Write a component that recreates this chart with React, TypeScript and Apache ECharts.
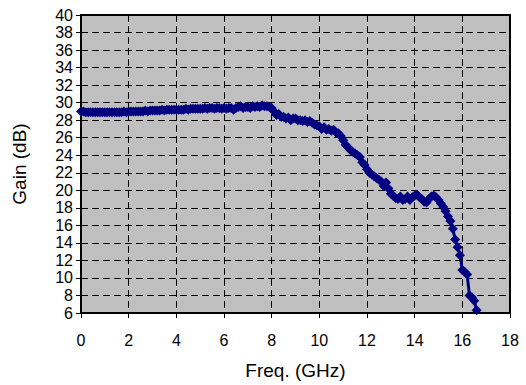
import React, { useEffect, useRef } from "react";
import * as echarts from "echarts";

const freqGHz: number[] = [
  0.0, 0.1, 0.2, 0.3, 0.4, 0.5, 0.6, 0.7, 0.8, 0.9,
  1.0, 1.1, 1.2, 1.3, 1.4, 1.5, 1.6, 1.7, 1.8, 1.9,
  2.0, 2.1, 2.2, 2.3, 2.4, 2.5, 2.6, 2.7, 2.8, 2.9,
  3.0, 3.1, 3.2, 3.3, 3.4, 3.5, 3.6, 3.7, 3.8, 3.9,
  4.0, 4.1, 4.2, 4.3, 4.4, 4.5, 4.6, 4.7, 4.8, 4.9,
  5.0, 5.1, 5.2, 5.3, 5.4, 5.5, 5.6, 5.7, 5.8, 5.9,
  6.0, 6.1, 6.2, 6.3, 6.4, 6.5, 6.6, 6.7, 6.8, 6.9,
  7.0, 7.1, 7.2, 7.3, 7.4, 7.5, 7.6, 7.7, 7.8, 7.9,
  8.0, 8.1, 8.2, 8.3, 8.4, 8.5, 8.6, 8.7, 8.8, 8.9,
  9.0, 9.1, 9.2, 9.3, 9.4, 9.5, 9.6, 9.7, 9.8, 9.9,
  10.0, 10.1, 10.2, 10.3, 10.4, 10.5, 10.6, 10.7, 10.8, 10.9,
  11.0, 11.1, 11.2, 11.3, 11.4, 11.5, 11.6, 11.7, 11.8, 11.9,
  12.0, 12.1, 12.2, 12.3, 12.4, 12.5, 12.6, 12.7, 12.8, 12.9,
  13.0, 13.1, 13.2, 13.3, 13.4, 13.5, 13.6, 13.7, 13.8, 13.9,
  14.0, 14.1, 14.2, 14.3, 14.4, 14.5, 14.6, 14.7, 14.8, 14.9,
  15.0, 15.1, 15.2, 15.3, 15.4, 15.5, 15.6, 15.7, 15.8, 15.9,
  16.0, 16.1, 16.2, 16.3, 16.4, 16.5, 16.6,
];

const gainDB: number[] = [
  29.0, 29.0, 28.9, 28.9, 28.9, 28.9, 28.9, 28.9, 28.9, 28.9,
  28.9, 28.9, 28.9, 28.9, 28.9, 28.9, 28.9, 28.9, 29.0, 28.9,
  29.0, 29.0, 29.0, 29.0, 29.0, 29.0, 29.0, 29.1, 29.0, 29.1,
  29.1, 29.1, 29.1, 29.1, 29.2, 29.1, 29.2, 29.2, 29.2, 29.2,
  29.2, 29.2, 29.2, 29.2, 29.3, 29.2, 29.3, 29.3, 29.3, 29.3,
  29.3, 29.3, 29.4, 29.3, 29.4, 29.4, 29.3, 29.4, 29.4, 29.3,
  29.4, 29.3, 29.4, 29.4, 29.2, 29.4, 29.5, 29.6, 29.4, 29.5,
  29.5, 29.4, 29.6, 29.5, 29.6, 29.5, 29.7, 29.6, 29.6, 29.5,
  29.4, 29.0, 28.6, 28.7, 28.4, 28.4, 28.2, 28.3, 28.0, 28.2,
  28.2, 28.0, 28.0, 27.9, 28.0, 27.8, 27.9, 27.7, 27.5, 27.4,
  27.3, 27.0, 27.2, 26.9, 27.0, 26.8, 26.9, 26.6, 26.5, 26.2,
  25.7, 25.2, 24.9, 24.6, 24.4, 24.2, 24.0, 23.8, 23.2, 22.9,
  22.4, 22.0, 21.8, 21.6, 21.4, 21.2, 21.0, 20.5, 20.9, 20.2,
  19.6, 19.4, 19.1, 19.0, 19.3, 18.9, 19.0, 19.3, 18.9, 19.2,
  19.4, 19.5, 19.2, 19.0, 18.7, 18.6, 19.0, 19.3, 19.4, 19.2,
  18.9, 18.5, 18.1, 17.6, 17.0, 16.5, 15.6, 14.4, 13.5, 12.6,
  10.9, 10.7, 10.4, 8.0, 7.8, 7.4, 6.3,
];

const xMin = 0;
const xMax = 18;
const xStep = 2;
const yMin = 6;
const yMax = 40;
const yStep = 2;
const xTitle = "Freq. (GHz)";
const yTitle = "Gain (dB)";

const FONT = "'Liberation Sans', Arial, sans-serif";

export default function App() {
  const ref = useRef<HTMLDivElement>(null);

  useEffect(() => {
    if (!ref.current) return;
    const chart = echarts.init(ref.current, undefined, { renderer: "svg" });
    const points = freqGHz.map((f, i) => [f, gainDB[i]]);
    const dashed = { color: "#000", width: 1, type: [7, 4] as number[] };
    chart.setOption({
      animation: false,
      backgroundColor: "#ffffff",
      textStyle: { fontFamily: FONT },
      grid: {
        left: 81,
        top: 15,
        right: 16,
        bottom: 71,
        show: true,
        backgroundColor: "#C0C0C0",
        borderColor: "#000",
        borderWidth: 2,
      },
      xAxis: {
        type: "value",
        min: xMin,
        max: xMax,
        interval: xStep,
        name: xTitle,
        nameLocation: "middle",
        nameGap: 48,
        nameTextStyle: { fontSize: 19, color: "#000", fontFamily: FONT },
        axisLine: { show: true, onZero: false, lineStyle: { color: "#000", width: 2 } },
        axisTick: { show: true, length: 5, lineStyle: { color: "#000", width: 1 } },
        axisLabel: { fontSize: 16, color: "#000", margin: 19, fontFamily: FONT },
        splitLine: { show: true, lineStyle: dashed },
      },
      yAxis: {
        type: "value",
        min: yMin,
        max: yMax,
        interval: yStep,
        name: yTitle,
        nameLocation: "middle",
        nameGap: 52,
        nameTextStyle: { fontSize: 19, color: "#000", fontFamily: FONT },
        axisLine: { show: true, onZero: false, lineStyle: { color: "#000", width: 2 } },
        axisTick: { show: true, length: 5, lineStyle: { color: "#000", width: 1 } },
        axisLabel: { fontSize: 16, color: "#000", margin: 8, fontFamily: FONT },
        splitLine: { show: true, lineStyle: dashed },
      },
      series: [
        {
          type: "line",
          data: points,
          symbol: "diamond",
          symbolSize: 10,
          showSymbol: true,
          color: "#000080",
          itemStyle: { color: "#000080" },
          lineStyle: { color: "#000080", width: 3 },
          clip: true,
        },
      ],
    });
    return () => chart.dispose();
  }, []);

  return (
    <div
      ref={ref}
      style={{ position: "fixed", left: 0, top: 0, width: 526, height: 385, background: "#fff" }}
    />
  );
}
